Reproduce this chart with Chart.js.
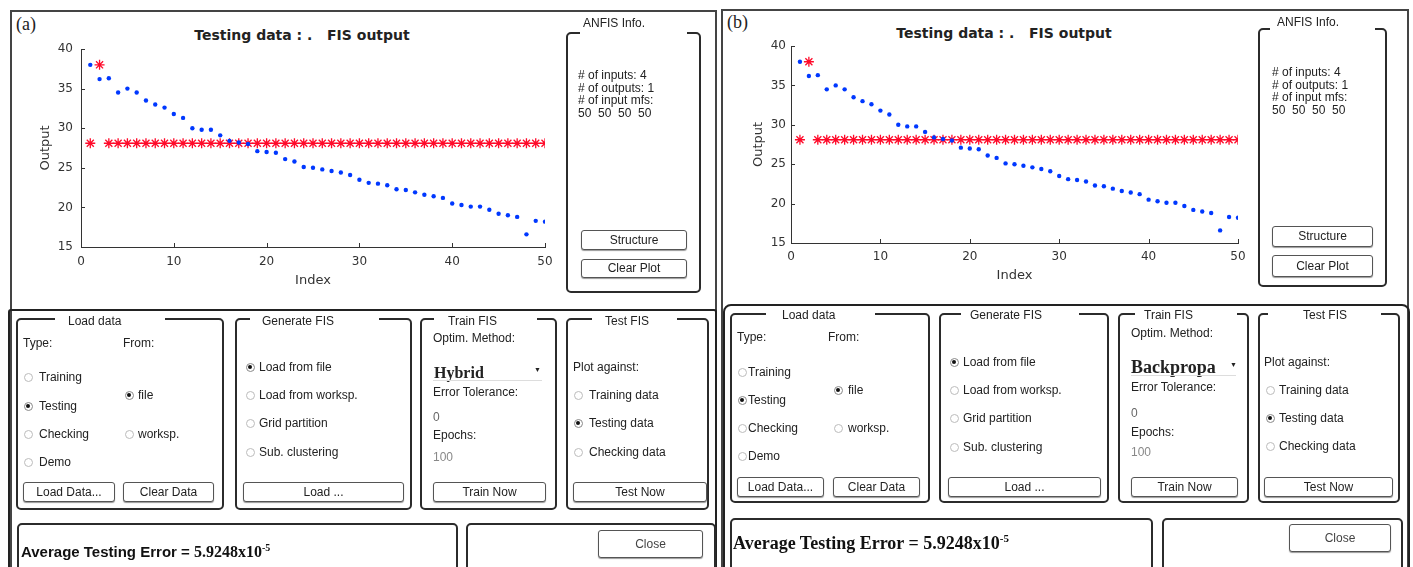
<!DOCTYPE html>
<html>
<head>
<meta charset="utf-8">
<script src="https://cdn.jsdelivr.net/npm/chart.js@4.4.0/dist/chart.umd.min.js"></script>
<style>
body{margin:0;width:1413px;height:567px;overflow:hidden;background:#fff;position:relative;font-family:"Liberation Sans",Arial,sans-serif;font-size:12px;color:#222}
.t{position:absolute;white-space:pre;line-height:14px}
.box{position:absolute;border:2px solid #2b2b2b;border-radius:5px;box-sizing:border-box}
.gap{position:absolute;height:5px;background:#fff}
.btn{position:absolute;border:1px solid #555;border-radius:3px;box-sizing:border-box;text-align:center;box-shadow:0 1px 1px #999;background:#fff}
.rd{position:absolute;width:9px;height:9px;border:1px solid #bbb;border-radius:50%;box-sizing:border-box}
.rd.on{border-color:#888}
.rd.on::after{content:"";position:absolute;left:1.5px;top:1.5px;width:4px;height:4px;border-radius:50%;background:#111}
.ttl{position:absolute;font-family:"DejaVu Sans",sans-serif;font-weight:bold;font-size:14px;white-space:pre;transform:translate(-50%,-50%);color:#222}
.lab{position:absolute;font-family:"Liberation Serif",serif;font-size:18px;transform:translateY(-50%)}
canvas{position:absolute}
</style>
</head>
<body>
<div class="lab" style="left:16px;top:24px">(a)</div>
<div class="lab" style="left:727px;top:22px">(b)</div>
<div class="ttl" style="left:302px;top:35px">Testing data : .   FIS output</div>
<div class="ttl" style="left:1004px;top:33px">Testing data : .   FIS output</div>
<canvas id="chartA" width="530" height="253" style="left:30px;top:39px"></canvas>
<canvas id="chartB" width="510" height="252" style="left:740px;top:36px"></canvas>
<script>
// index of each testing sample
const sampleIndex = [1,2,3,4,5,6,7,8,9,10,11,12,13,14,15,16,17,18,19,20,21,22,23,24,25,
  26,27,28,29,30,31,32,33,34,35,36,37,38,39,40,41,42,43,44,45,46,47,48,49,50];
// testing data (blue dots)
const testingData = [38.0,36.2,36.3,34.5,35.0,34.5,33.5,33.0,32.6,31.8,31.3,30.0,29.8,29.8,29.1,
  28.4,28.2,28.0,27.1,27.0,26.9,26.1,25.8,25.1,25.0,24.8,24.6,24.4,24.1,23.5,23.1,23.0,22.8,
  22.3,22.2,21.9,21.6,21.4,21.2,20.5,20.3,20.1,20.1,19.7,19.2,19.0,18.8,16.6,18.3,18.2];
// FIS output (red stars)
const fisOutput = [28.1,38.0,28.1,28.1,28.1,28.1,28.1,28.1,28.1,28.1,28.1,28.1,28.1,28.1,28.1,
  28.1,28.1,28.1,28.1,28.1,28.1,28.1,28.1,28.1,28.1,28.1,28.1,28.1,28.1,28.1,28.1,28.1,28.1,
  28.1,28.1,28.1,28.1,28.1,28.1,28.1,28.1,28.1,28.1,28.1,28.1,28.1,28.1,28.1,28.1,28.1];
const xTicks = [0,10,20,30,40,50];
const yTicks = [15,20,25,30,35,40];

const inTicks = {
  id: 'inTicks',
  afterDraw(c) {
    const {ctx, chartArea: a, scales: {x, y}} = c;
    ctx.save();
    ctx.strokeStyle = '#333';
    ctx.lineWidth = 1;
    ctx.beginPath();
    x.ticks.forEach(t => {
      const p = Math.round(x.getPixelForValue(t.value)) + 0.5;
      ctx.moveTo(p, a.bottom); ctx.lineTo(p, a.bottom - 4);
    });
    y.ticks.forEach(t => {
      const p = Math.round(y.getPixelForValue(t.value)) + 0.5;
      ctx.moveTo(a.left, p); ctx.lineTo(a.left + 4, p);
    });
    ctx.stroke();
    ctx.restore();
  }
};

function makeChart(id, o) {
  const pts = arr => sampleIndex.map((v, i) => ({x: v, y: arr[i]}));
  new Chart(id, {
    type: 'scatter',
    data: {
      datasets: [
        {label: 'Testing data', data: pts(testingData), pointStyle: 'circle', pointRadius: 2.2,
          backgroundColor: '#0038ff', borderWidth: 0},
        {label: 'FIS output', data: pts(fisOutput), pointStyle: 'star', pointRadius: 5,
          borderColor: '#ff0a2a', borderWidth: 1.3}
      ]
    },
    options: {
      responsive: false,
      animation: false,
      layout: {padding: {left: 0, top: 10, right: o.padR, bottom: 0}},
      plugins: {legend: {display: false}, tooltip: {enabled: false}},
      scales: {
        x: {
          type: 'linear', min: 0, max: 50,
          afterBuildTicks: s => { s.ticks = xTicks.map(v => ({value: v})); },
          grid: {display: false, drawTicks: false},
          border: {display: true, color: '#333', width: 1},
          ticks: {padding: o.xPad, color: '#333', font: {family: 'DejaVu Sans', size: 12}, maxRotation: 0, autoSkip: false},
          title: {display: true, text: 'Index', color: '#333', font: {family: 'DejaVu Sans', size: 13}, padding: {top: 0, bottom: o.xTitle}},
          afterFit: s => { s.height = 45; s.paddingLeft = 0; s.paddingRight = 0; }
        },
        y: {
          min: 15, max: 40,
          afterBuildTicks: s => { s.ticks = yTicks.map(v => ({value: v})); },
          grid: {display: false, drawTicks: false},
          border: {display: true, color: '#333', width: 1},
          ticks: {padding: o.yPad, color: '#333', font: {family: 'DejaVu Sans', size: 12}},
          title: {display: true, text: 'Output', color: '#333', font: {family: 'DejaVu Sans', size: 13}, padding: {top: o.yTitle, bottom: 0}},
          afterFit: s => { s.width = 51; s.paddingTop = 0; s.paddingBottom = 0; }
        }
      }
    },
    plugins: [inTicks]
  });
}
makeChart('chartA', {padR: 15, xPad: 8, yPad: 8, xTitle: 4, yTitle: 7.5});
makeChart('chartB', {padR: 12, xPad: 7, yPad: 5, xTitle: 4.5, yTitle: 10.5});

// ---- GUI around the plots ----
const body = document.body;
function el(cls, css, html) {
  const d = document.createElement('div');
  d.className = cls; d.style.cssText = css;
  if (html !== undefined) d.innerHTML = html;
  body.appendChild(d); return d;
}
const txt = (x, cy, s, css = '') => el('t', `left:${x}px;top:${cy - 7}px;${css}`, s);
const box = (x1, y1, x2, y2, css = '') => el('box', `left:${x1}px;top:${y1}px;width:${x2 - x1}px;height:${y2 - y1}px;${css}`);
const gap = (x1, x2, y) => el('gap', `left:${x1}px;top:${y - 1}px;width:${x2 - x1}px`);
const btn = (x1, y1, x2, y2, s, css = '') => el('btn', `left:${x1}px;top:${y1}px;width:${x2 - x1}px;height:${y2 - y1}px;line-height:${y2 - y1 - 2}px;${css}`, s);
function radio(cx, cy, on, s, tx) {
  el('rd' + (on ? ' on' : ''), `left:${cx - 4.5}px;top:${cy - 4.5}px`);
  txt(tx, cy, s);
}
function group(x1, y1, x2, y2, g1, g2, tx, ty, s) {
  box(x1, y1, x2, y2);
  gap(g1, g2, y1);
  txt(tx, ty, s);
}
const info = '# of inputs: 4\n# of outputs: 1\n# of input mfs:\n50  50  50  50';

// panel (a)
box(10, 10, 717, 620, 'border-radius:0;border-color:#444');
box(8, 309, 717, 620, 'border-radius:3px;border-color:#222');
group(566, 32, 701, 293, 580, 687, 583, 23, 'ANFIS Info.');
txt(578, 76, info, 'line-height:12.5px;top:69px');
btn(581, 230, 687, 250, 'Structure');
btn(581, 259, 687, 278, 'Clear Plot');

group(16, 318, 224, 510, 55, 165, 68, 321, 'Load data');
txt(23, 343, 'Type:'); txt(123, 343, 'From:');
radio(28, 377, false, 'Training', 39);
radio(28, 406, true, 'Testing', 39);
radio(28, 434, false, 'Checking', 39);
radio(28, 462, false, 'Demo', 39);
radio(129, 395, true, 'file', 138);
radio(129, 434, false, 'worksp.', 138);
btn(23, 482, 115, 502, 'Load Data...');
btn(123, 482, 214, 502, 'Clear Data');

group(235, 318, 412, 510, 250, 379, 262, 321, 'Generate FIS');
radio(250, 367, true, 'Load from file', 259);
radio(250, 395, false, 'Load from worksp.', 259);
radio(250, 423, false, 'Grid partition', 259);
radio(250, 452, false, 'Sub. clustering', 259);
btn(243, 482, 404, 502, 'Load ...');

group(420, 318, 557, 510, 434, 537, 448, 321, 'Train FIS');
txt(433, 338, 'Optim. Method:');
txt(434, 373, 'Hybrid', 'font-family:"Liberation Serif",serif;font-weight:bold;font-size:16px;line-height:16px;top:365px');
txt(534, 369, '\u25BC', 'font-size:7px;line-height:8px;top:366px');
el('gap', 'left:433px;top:380px;width:109px;height:1px;background:#ddd');
txt(433, 392, 'Error Tolerance:');
txt(433, 417, '0', 'color:#666');
txt(433, 435, 'Epochs:');
txt(433, 457, '100', 'color:#888');
btn(433, 482, 546, 502, 'Train Now');

group(566, 318, 709, 510, 592, 677, 605, 321, 'Test FIS');
txt(573, 367, 'Plot against:');
radio(578, 395, false, 'Training data', 589);
radio(578, 423, true, 'Testing data', 589);
radio(578, 452, false, 'Checking data', 589);
btn(573, 482, 707, 502, 'Test Now');

box(17, 523, 458, 600);
txt(21, 548, '<span style="font-family:\'Liberation Sans\';font-size:15px">Average Testing Error = </span><span style="font-family:\'Liberation Serif\';font-size:16px">5.9248x10<sup style="font-size:10px">-5</sup></span>', 'font-weight:bold;color:#111;line-height:18px;top:539px');
box(466, 523, 716, 600);
btn(598, 530, 703, 558, 'Close', 'color:#444');

// panel (b)
box(721, 9, 1409, 620, 'border-radius:0;border-color:#444');
box(723, 304, 1410, 620, 'border-radius:8px;border-color:#222');
group(1258, 28, 1387, 287, 1270, 1375, 1277, 22, 'ANFIS Info.');
txt(1272, 73, info, 'line-height:12.5px;top:66px');
btn(1272, 226, 1373, 247, 'Structure');
btn(1272, 255, 1373, 277, 'Clear Plot');

group(730, 313, 930, 503, 766, 875, 782, 315, 'Load data');
txt(737, 337, 'Type:'); txt(828, 337, 'From:');
radio(742, 372, false, 'Training', 748);
radio(742, 400, true, 'Testing', 748);
radio(742, 428, false, 'Checking', 748);
radio(742, 456, false, 'Demo', 748);
radio(838, 390, true, 'file', 848);
radio(838, 428, false, 'worksp.', 848);
btn(737, 477, 824, 497, 'Load Data...');
btn(833, 477, 920, 497, 'Clear Data');

group(939, 313, 1109, 503, 961, 1079, 970, 315, 'Generate FIS');
radio(954, 362, true, 'Load from file', 963);
radio(954, 390, false, 'Load from worksp.', 963);
radio(954, 418, false, 'Grid partition', 963);
radio(954, 447, false, 'Sub. clustering', 963);
btn(948, 477, 1101, 497, 'Load ...');

group(1118, 313, 1249, 503, 1135, 1237, 1144, 315, 'Train FIS');
txt(1131, 333, 'Optim. Method:');
txt(1131, 367, 'Backpropa', 'font-family:"Liberation Serif",serif;font-weight:bold;font-size:18px;line-height:18px;top:358px');
txt(1230, 364, '\u25BC', 'font-size:7px;line-height:8px;top:361px');
el('gap', 'left:1131px;top:375px;width:105px;height:1px;background:#ddd');
txt(1131, 387, 'Error Tolerance:');
txt(1131, 413, '0', 'color:#666');
txt(1131, 432, 'Epochs:');
txt(1131, 452, '100', 'color:#888');
btn(1131, 477, 1238, 497, 'Train Now');

group(1258, 313, 1400, 503, 1268, 1381, 1303, 315, 'Test FIS');
txt(1264, 362, 'Plot against:');
radio(1270, 390, false, 'Training data', 1279);
radio(1270, 418, true, 'Testing data', 1279);
radio(1270, 446, false, 'Checking data', 1279);
btn(1264, 477, 1393, 497, 'Test Now');

box(730, 518, 1153, 600);
txt(733, 538, 'Average Testing Error = 5.9248x10<sup style="font-size:11px">-5</sup>', 'font-family:"Liberation Serif",serif;font-weight:bold;font-size:18px;color:#111;line-height:20px;top:528px');
box(1162, 518, 1403, 600);
btn(1289, 524, 1391, 552, 'Close', 'color:#444');
</script>
</body>
</html>
